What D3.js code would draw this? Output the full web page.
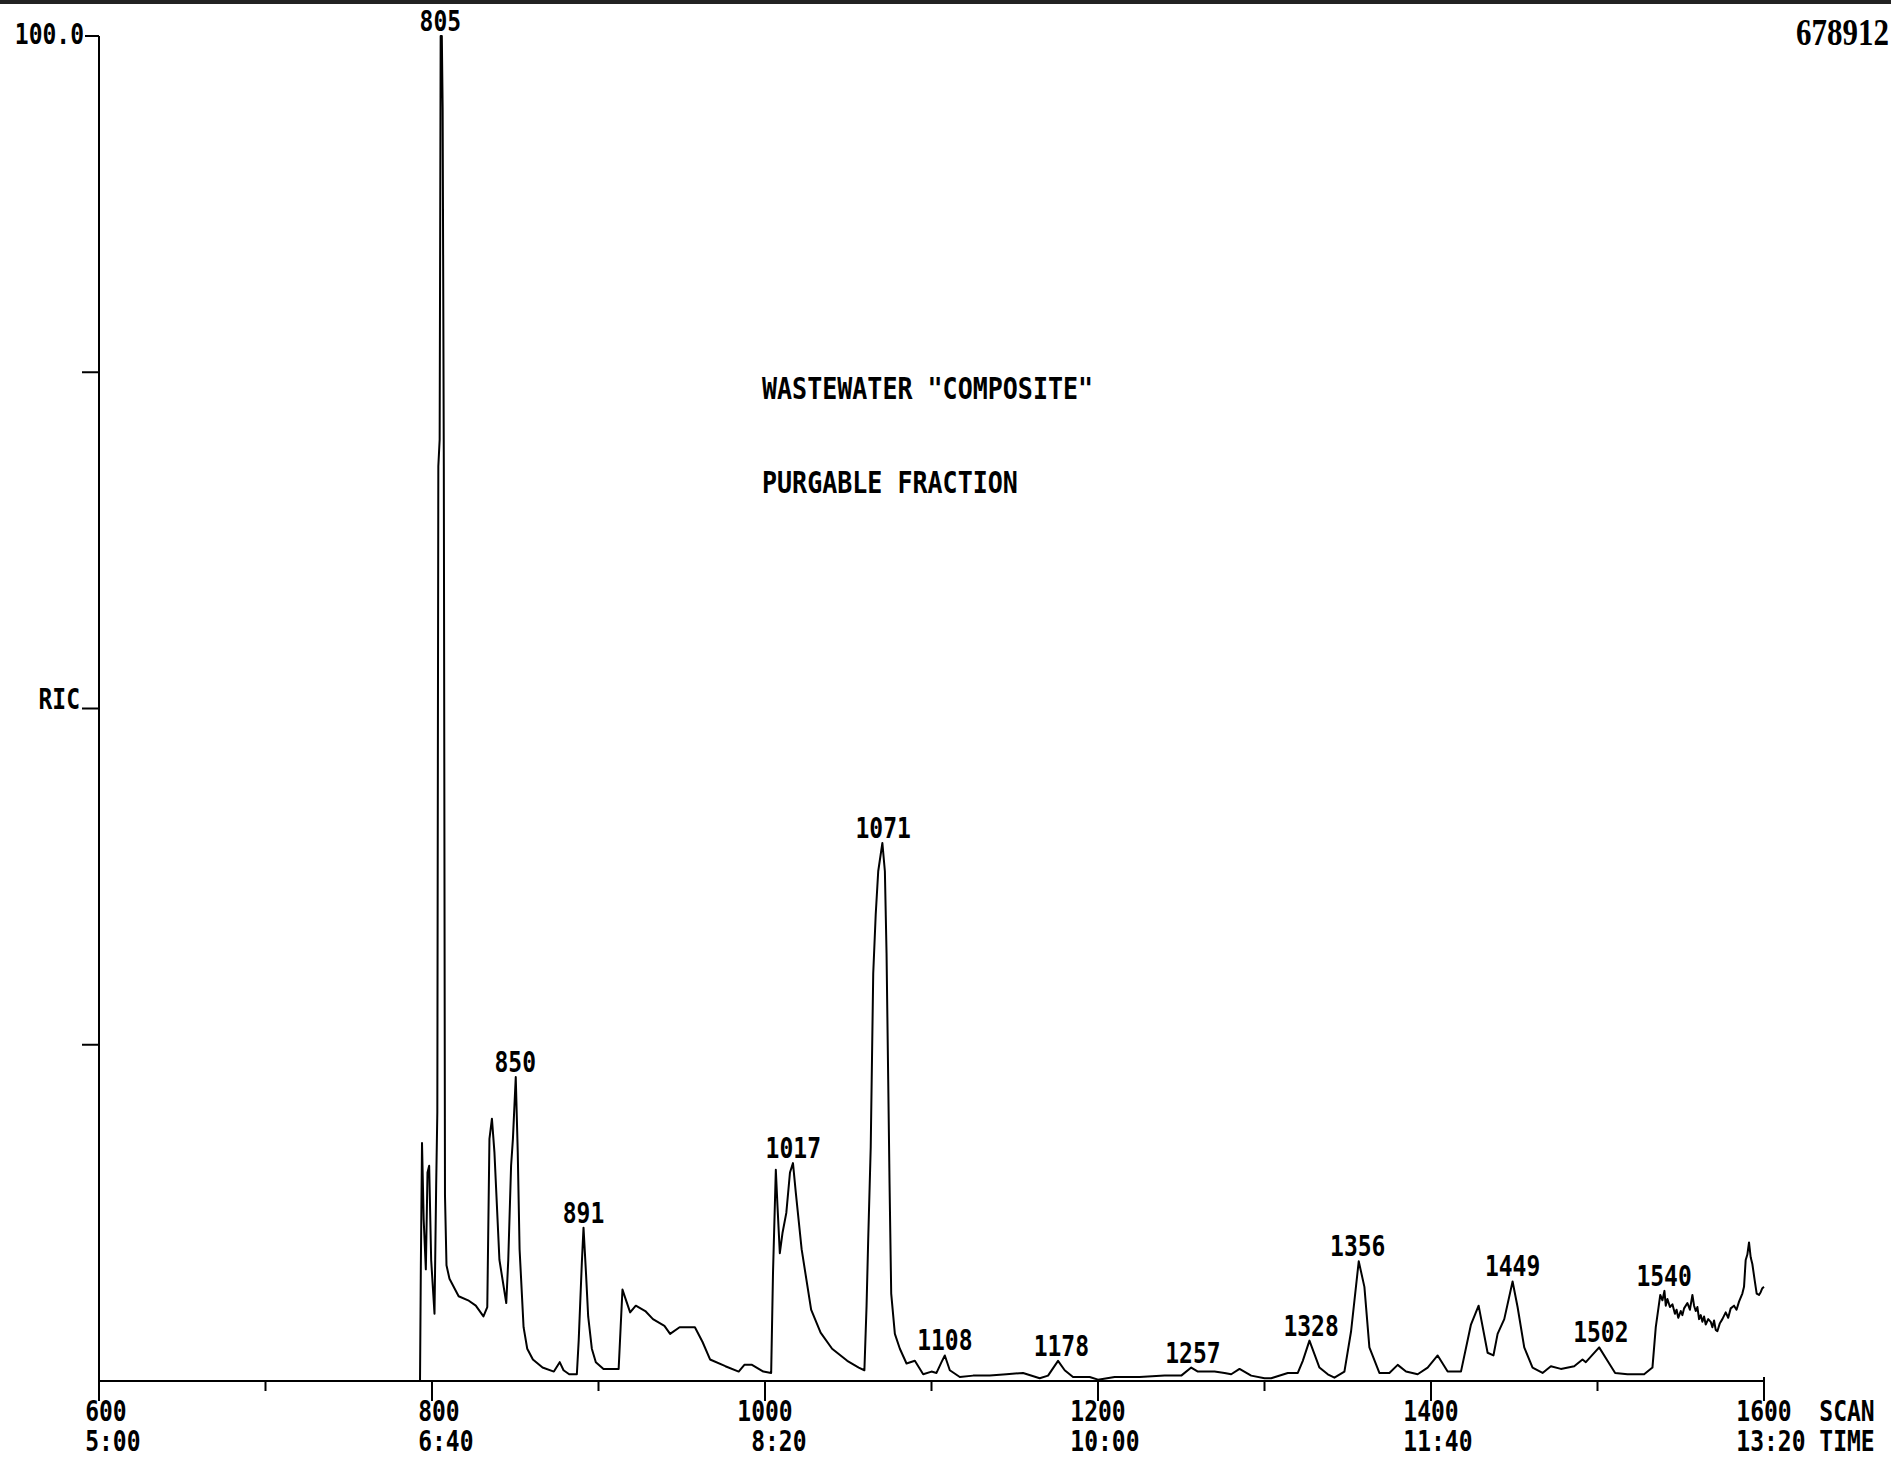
<!DOCTYPE html>
<html>
<head>
<meta charset="utf-8">
<script src="https://cdn.jsdelivr.net/npm/d3@7"></script>
<style>
  body { margin: 0; background: #fff; }
  svg text { font-family: "DejaVu Sans Mono", monospace; font-weight: bold; fill: #000; white-space: pre; }
</style>
</head>
<body>
<svg id="chart" width="1891" height="1459"></svg>
<script>
// scan range and axis ticks
var scanMajor = [600, 800, 1000, 1200, 1400, 1600];
var scanMinor = [700, 900, 1100, 1300, 1500];
var timeLabels = ["5:00", "6:40", "8:20", "10:00", "11:40", "13:20"];
var yTicks = [25, 50, 75, 100];

// reconstructed ion chromatogram, % of max (scan number, intensity)
var scans = [600, 792.8, 793.3, 794, 795, 796.3, 797.3, 798.3, 799.5, 801.5, 802.5, 803.2, 803.8, 804.6, 805.2, 805.9,
  806.4, 807.1, 807.8, 808.7, 810.5, 816, 821.7, 826.3, 830.9, 833.2, 834.5, 836, 837.5, 840.5, 844.6, 845.8,
  847.5, 848.6, 850.3, 851.5, 852.6, 855, 857.2, 860.6, 866.4, 873.2, 876.7, 879, 882.4, 887, 888.1, 890,
  891, 892.5, 893.8, 896, 898.4, 903, 912.1, 913.3, 914.4, 916, 919, 922.4, 928.1, 932.7, 939.6, 943,
  948.7, 957.9, 962.5, 967, 976.2, 984.2, 987.6, 992.2, 999, 1003.7, 1004.8, 1006.5, 1007.5, 1008.9, 1010.5, 1012.8,
  1015, 1016.8, 1018.5, 1022, 1027.7, 1033.4, 1040.3, 1049.4, 1056.3, 1059.7, 1061, 1062, 1063.5, 1065, 1066.5, 1068,
  1070.5, 1072, 1073, 1074, 1074.8, 1075.8, 1078, 1081, 1085, 1090, 1095, 1100, 1103, 1106, 1108, 1111,
  1117, 1125, 1135, 1145, 1155, 1165, 1170, 1176, 1180, 1185, 1195, 1200, 1210, 1225, 1240, 1250,
  1256, 1260, 1270, 1276, 1280, 1285, 1292, 1300, 1304, 1314, 1320, 1323, 1327, 1330, 1333, 1338,
  1342, 1348, 1352, 1356.6, 1360, 1363, 1369, 1375, 1380, 1385, 1392, 1398, 1404, 1410, 1418, 1424,
  1428.6, 1434, 1437.5, 1440, 1444, 1449, 1452, 1456, 1461, 1467, 1472, 1478, 1486, 1491, 1493, 1501,
  1506, 1510.6, 1518, 1528, 1533, 1535, 1537.7, 1539, 1540.2, 1541, 1542, 1543.5, 1545, 1546.5, 1547.5, 1548.5,
  1550, 1551, 1552, 1554, 1555.5, 1557, 1558, 1559, 1560, 1561, 1562, 1563, 1564, 1565, 1566.5, 1568,
  1569, 1570, 1571, 1572, 1573.5, 1575, 1577, 1578.5, 1580, 1582, 1583.5, 1585, 1587, 1588, 1589, 1590,
  1591, 1592, 1593, 1594.5, 1595.6, 1597, 1598, 1599, 1600];
var intensity = [0, 0, 8.5, 17.7, 12, 8.3, 15.5, 16, 9, 5.0, 14.5, 20, 68, 70, 100, 100,
  94.6, 68, 13.8, 8.6, 7.6, 6.3, 6.0, 5.6, 4.8, 5.5, 18, 19.5, 17, 9, 5.8, 9,
  16, 18, 22.6, 17, 9.8, 4, 2.4, 1.6, 1.0, 0.7, 1.4, 0.8, 0.5, 0.5, 3, 8.8,
  11.4, 8, 4.8, 2.4, 1.4, 0.9, 0.9, 4, 6.8, 6.2, 5.1, 5.6, 5.2, 4.6, 4.1, 3.5,
  4.0, 4.0, 2.9, 1.6, 1.1, 0.7, 1.2, 1.2, 0.7, 0.6, 8.0, 15.7, 13, 9.5, 11, 12.5,
  15.5, 16.2, 14, 9.8, 5.3, 3.6, 2.4, 1.5, 1.0, 0.8, 5.6, 10.6, 17.4, 30.3, 34.7, 37.9,
  40, 37.9, 31.8, 22.4, 14.7, 6.5, 3.5, 2.4, 1.3, 1.5, 0.5, 0.7, 0.6, 1.4, 1.9, 0.8,
  0.3, 0.4, 0.4, 0.5, 0.6, 0.2, 0.4, 1.5, 0.8, 0.3, 0.3, 0.1, 0.3, 0.3, 0.4, 0.4,
  1.0, 0.7, 0.7, 0.6, 0.5, 0.9, 0.4, 0.2, 0.2, 0.6, 0.6, 1.5, 3.0, 2.0, 1.0, 0.5,
  0.25, 0.7, 3.7, 8.9, 7, 2.5, 0.6, 0.6, 1.2, 0.7, 0.5, 1.0, 1.9, 0.7, 0.7, 4.2,
  5.6, 2.1, 1.9, 3.5, 4.6, 7.4, 5.5, 2.5, 1.0, 0.6, 1.1, 0.9, 1.1, 1.6, 1.4, 2.5,
  1.5, 0.6, 0.5, 0.5, 1.0, 4.0, 6.4, 6.0, 6.7, 5.6, 6.1, 5.5, 5.7, 5.0, 5.3, 4.7,
  5.2, 4.9, 5.4, 5.8, 5.3, 6.4, 5.6, 5.2, 5.5, 4.6, 4.9, 4.4, 4.8, 4.2, 4.6, 4.4,
  4.0, 4.5, 3.8, 3.7, 4.3, 4.6, 5.1, 4.7, 5.4, 5.6, 5.3, 5.9, 6.5, 7.0, 9.0, 9.4,
  10.3, 9.2, 8.7, 7.4, 6.5, 6.4, 6.6, 6.9, 7.0];

// labelled peaks
var peakScans = [805, 850, 891, 1017, 1071, 1108, 1178, 1257, 1328, 1356, 1449, 1502, 1540];

var titleLines = ["WASTEWATER \"COMPOSITE\"", "PURGABLE FRACTION"];
var maxCount = "678912";

var svg = d3.select("#chart");

var x = d3.scaleLinear().domain([600, 1600]).range([99, 1764]);
var y = d3.scaleLinear().domain([0, 100]).range([1381, 36]);

function label(g, px, py, s, size, anchor) {
    return g.append("text")
        .attr("transform", "translate(" + px + "," + py + ") scale(1,1.2)")
        .attr("text-anchor", anchor || "start")
        .style("font-size", size + "px")
        .text(s);
}

// scanner edge at the top
svg.append("rect").attr("x", 0).attr("y", 0).attr("width", 1891).attr("height", 4).attr("fill", "#222");

var axes = svg.append("g").attr("stroke", "#000").attr("stroke-width", 2).attr("fill", "none");

// y axis
axes.append("line").attr("x1", x(600)).attr("x2", x(600)).attr("y1", y(100)).attr("y2", y(0) + 20);
yTicks.forEach(function(t) {
    axes.append("line")
        .attr("x1", t == 100 ? x(600) - 14 : x(600) - 17).attr("x2", x(600))
        .attr("y1", y(t)).attr("y2", y(t));
});

// x axis
axes.append("line").attr("x1", x(600)).attr("x2", x(1600)).attr("y1", y(0)).attr("y2", y(0));
scanMajor.forEach(function(s) {
    axes.append("line").attr("x1", x(s)).attr("x2", x(s))
        .attr("y1", s == 1600 ? y(0) - 4 : y(0)).attr("y2", y(0) + 20);
});
scanMinor.forEach(function(s) {
    axes.append("line").attr("x1", x(s)).attr("x2", x(s)).attr("y1", y(0)).attr("y2", y(0) + 10);
});

var texts = svg.append("g");
var ch = 13.85;
scanMajor.forEach(function(s, i) {
    var left = x(s) - 2 * ch;
    var top = String(s).padStart(4, " ");
    var bot = timeLabels[i].padStart(5, " ");
    if (s == 1600) { top += "  SCAN"; bot += " TIME"; }
    label(texts, left, 1421, top, 23);
    label(texts, left, 1451, bot, 23);
});

label(texts, 84, y(100) + 8, "100.0", 23, "end");
label(texts, 80, y(50), "RIC", 23, "end");
label(texts, 1889, 45, maxCount, 31, "end")
    .style("font-family", "'Liberation Serif', serif");

titleLines.forEach(function(t, i) {
    label(texts, 762, 399 + i * 94, t, 25);
});

// trace
var pts = scans.map(function(s, i) { return [s, intensity[i]]; });
var line = d3.line().x(function(d) { return x(d[0]); }).y(function(d) { return y(d[1]); });
svg.append("path").datum(pts)
    .attr("d", line)
    .attr("fill", "none").attr("stroke", "#000").attr("stroke-width", 2).attr("stroke-linejoin", "round");

// peak labels above each apex
peakScans.forEach(function(p) {
    var near = pts.filter(function(d) { return Math.abs(d[0] - p) <= 3; });
    var top = d3.max(near, function(d) { return d[1]; });
    label(texts, x(p), y(top) - 5, String(p), 23, "middle");
});
</script>
</body>
</html>
